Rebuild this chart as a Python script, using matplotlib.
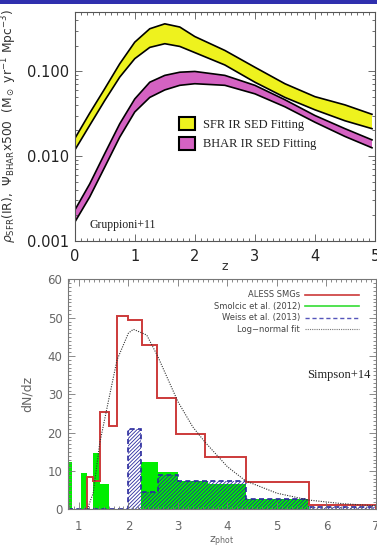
import matplotlib
matplotlib.use("Agg")
import matplotlib.pyplot as plt
from matplotlib.patches import Patch, Rectangle
from matplotlib.lines import Line2D
from matplotlib.ticker import MultipleLocator, FixedLocator, LogLocator, NullFormatter

# ---- top panel: Gruppioni+11 bands ----
z_top = [0, 0.25, 0.5, 0.75, 1.0, 1.25, 1.5, 1.75, 2.0, 2.5, 3.0, 3.5, 4.0, 4.5, 4.95]
sfr_hi = [0.016, 0.032, 0.062, 0.122, 0.219, 0.315, 0.36, 0.33, 0.255, 0.175, 0.111, 0.071, 0.050, 0.040, 0.031]
sfr_lo = [0.0117, 0.023, 0.045, 0.085, 0.14, 0.19, 0.21, 0.195, 0.165, 0.118, 0.074, 0.049, 0.035, 0.026, 0.021]
bhar_hi = [0.0023, 0.0047, 0.0107, 0.024, 0.047, 0.074, 0.089, 0.097, 0.099, 0.089, 0.068, 0.046, 0.030, 0.021, 0.0155]
bhar_lo = [0.00166, 0.0033, 0.0074, 0.0167, 0.033, 0.049, 0.060, 0.068, 0.071, 0.068, 0.054, 0.038, 0.025, 0.017, 0.0125]
top_yticks = [0.001, 0.01, 0.1]
top_yticklabels = ["0.001", "0.010", "0.100"]

# ---- bottom panel: Simpson+14 histograms ----
aless_edges = [1.17, 1.29, 1.42, 1.6, 1.77, 1.99, 2.27, 2.58, 2.97, 3.55, 4.37, 5.65, 7.0]
aless_vals = [8.4, 7.4, 25.3, 21.8, 50.5, 49.4, 42.8, 29.0, 19.6, 13.6, 7.0, 1.2]

smolcic_edges = [0.78, 0.87, 1.05, 1.17, 1.29, 1.42, 1.61, 2.25, 2.59, 3.0, 3.6, 4.37, 5.65]
smolcic_vals = [12.4, 0, 9.4, 0, 14.8, 6.5, 0, 12.3, 9.7, 7.4, 6.6, 2.7]

weiss_edges = [0.78, 2.0, 2.25, 2.59, 3.0, 4.37, 5.65, 7.0]
weiss_vals = [0, 21.0, 4.6, 8.9, 7.4, 2.7, 0.7]

lognorm_z = [1.17, 1.29, 1.42, 1.6, 1.77, 2.0, 2.1, 2.37, 2.59, 3.0, 3.3, 3.55, 4.0, 4.37, 5.0, 5.65, 6.3, 7.0]
lognorm_n = [0, 4.3, 17.2, 28.5, 39, 46, 47, 45.5, 40, 28.1, 21.5, 17.5, 11.1, 7.4, 4.2, 2.4, 1.5, 0.9]

W, H = 377, 551
fig = plt.figure(figsize=(W / 100, H / 100), dpi=100)
fig.patch.set_facecolor("white")

# blue strip at the very top
fig.add_artist(Rectangle((0, 1 - 3.5 / H), 1, 3.5 / H, transform=fig.transFigure,
                         facecolor="#2f2fae", edgecolor="none"))

serif = ["Liberation Serif", "DejaVu Serif"]

# ================= top panel =================
ax1 = fig.add_axes([74.7 / W, 1 - 241 / H, (375 - 74.7) / W, (241 - 11.7) / H])
ax1.set_yscale("log")
ax1.set_xlim(0, 5)
ax1.set_ylim(0.001, 0.5)

ax1.fill_between(z_top, sfr_lo, sfr_hi, facecolor="#eef21e", edgecolor="none")
ax1.plot(z_top, sfr_hi, color="black", lw=1.2)
ax1.plot(z_top, sfr_lo, color="black", lw=1.2)
ax1.fill_between(z_top, bhar_lo, bhar_hi, facecolor="#d462c2", edgecolor="none")
ax1.plot(z_top, bhar_hi, color="black", lw=1.2)
ax1.plot(z_top, bhar_lo, color="black", lw=1.2)

ax1.yaxis.set_major_locator(FixedLocator(top_yticks))
ax1.set_yticklabels(top_yticklabels)
ax1.yaxis.set_minor_locator(LogLocator(base=10, subs=range(2, 10)))
ax1.yaxis.set_minor_formatter(NullFormatter())
ax1.xaxis.set_major_locator(MultipleLocator(1))
ax1.xaxis.set_minor_locator(MultipleLocator(0.1))
ax1.tick_params(which="both", direction="in", top=True, right=True, colors="#555555",
                labelcolor="#222222", labelsize=10.5, width=0.6)
ax1.tick_params(which="major", length=5)
ax1.tick_params(which="minor", length=2.5)
ax1.tick_params(axis="y", pad=4)
ax1.tick_params(axis="x", pad=6)
for s in ax1.spines.values():
    s.set_color("#555555")
    s.set_linewidth(0.8)

ax1.set_ylabel(r"$\rho_{\rm SFR}$(IR),  $\Psi_{\rm BHAR}$x500  (M$_\odot$ yr$^{-1}$ Mpc$^{-3}$)",
               fontsize=8.8, color="#333333", labelpad=6)
ax1.set_xlabel("z", fontsize=9, color="#333333", labelpad=-3)

leg1 = ax1.legend(handles=[Patch(facecolor="#eef21e", edgecolor="black", lw=1.5, label="SFR IR SED Fitting"),
                           Patch(facecolor="#d462c2", edgecolor="black", lw=1.5, label="BHAR IR SED Fitting")],
                  loc="upper left", bbox_to_anchor=(0.31, 0.59), frameon=False,
                  prop={"family": serif, "size": 9}, handlelength=1.3, handleheight=1.2,
                  handletextpad=0.6, labelspacing=0.5)
for t in leg1.get_texts():
    t.set_color("#222222")

ax1.text(0.05, 0.07, "Gruppioni+11", transform=ax1.transAxes, family=serif, fontsize=8.5,
         color="#222222", ha="left", va="center")

# ================= bottom panel =================
ax2 = fig.add_axes([68 / W, 1 - 509.3 / H, (376 - 68) / W, (509.3 - 279.5) / H])
ax2.set_xlim(0.78, 7.0)
ax2.set_ylim(0, 60)

plt.rcParams["hatch.linewidth"] = 0.6
ax2.stairs(smolcic_vals, smolcic_edges, fill=True, facecolor="#00ee00", edgecolor="none")
ax2.stairs(weiss_vals, weiss_edges, fill=True, facecolor="none", edgecolor="#2a2a9e",
           hatch="/" * 9, linestyle=(0, (3, 2)), lw=1.2)
ax2.stairs(aless_vals, aless_edges, color="#cc3a3a", lw=1.4)
ax2.plot(lognorm_z, lognorm_n, color="#333333", ls=(0, (1, 1.2)), lw=0.8)

ax2.xaxis.set_major_locator(MultipleLocator(1))
ax2.xaxis.set_minor_locator(MultipleLocator(0.1))
ax2.yaxis.set_major_locator(MultipleLocator(10))
ax2.yaxis.set_minor_locator(MultipleLocator(1))
ax2.tick_params(which="both", direction="in", top=True, right=True, colors="#777777",
                labelcolor="#666666", labelsize=8.5, width=0.6)
ax2.tick_params(which="major", length=5)
ax2.tick_params(which="minor", length=2)
ax2.tick_params(axis="x", pad=8)
ax2.tick_params(axis="y", pad=4)
for s in ax2.spines.values():
    s.set_color("#777777")
    s.set_linewidth(0.8)

ax2.set_ylabel("dN/dz", fontsize=9, color="#666666", labelpad=10)
ax2.set_xlabel(r"z$_{\rm phot}$", fontsize=8, color="#666666", labelpad=1)

leg2 = ax2.legend(handles=[Line2D([], [], color="#cc3a3a", lw=1.2, label="ALESS SMGs"),
                           Line2D([], [], color="#33dd33", lw=1.2, label="Smolcic et al. (2012)"),
                           Line2D([], [], color="#5555bb", lw=1.0, ls=(0, (3, 2)), label="Weiss et al. (2013)"),
                           Line2D([], [], color="#777777", lw=0.8, ls=(0, (1, 1)), label="Log\u2212normal fit")],
                  loc="upper right", bbox_to_anchor=(0.97, 0.985), frameon=False, markerfirst=False,
                  fontsize=6, handlelength=6.5, handletextpad=0.6, labelspacing=0.3)
for t in leg2.get_texts():
    t.set_color("#444444")

ax2.text(6.25, 35, "Simpson+14", family=serif, fontsize=9, color="#222222", ha="center", va="center")

fig.savefig("out.png", dpi=100, facecolor="white")
